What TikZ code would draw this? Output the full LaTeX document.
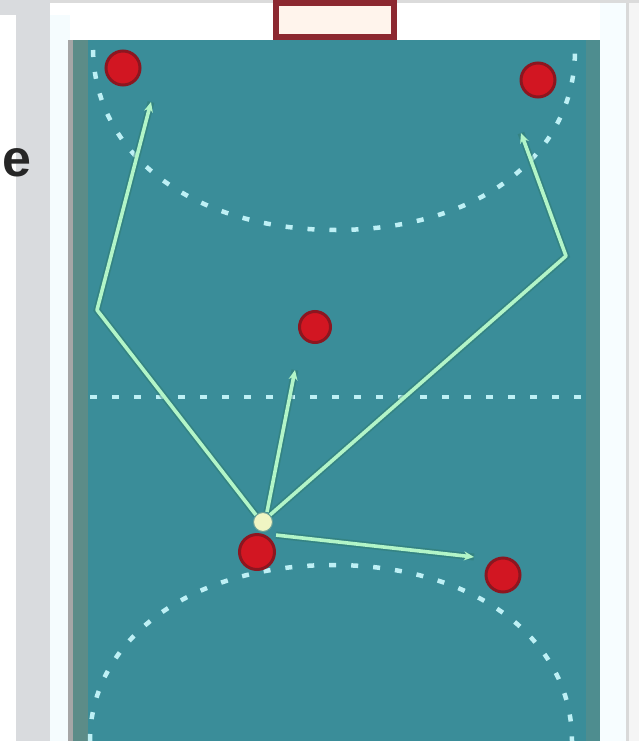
\documentclass[tikz,border=0pt]{standalone}
\usepackage{fontspec}
\setsansfont{Liberation Sans}
\usetikzlibrary{arrows.meta}
\definecolor{court}{RGB}{58,141,153}
\definecolor{courtedge}{RGB}{92,140,136}
\definecolor{stripgrey}{RGB}{217,219,222}
\definecolor{lineblue}{RGB}{190,240,245}
\definecolor{mint}{RGB}{178,245,200}
\definecolor{shadowgreen}{RGB}{45,120,105}
\definecolor{playerred}{RGB}{210,22,34}
\definecolor{playerdark}{RGB}{140,22,32}
\definecolor{goalred}{RGB}{140,40,48}
\definecolor{goalfill}{RGB}{255,244,236}
\definecolor{ballyellow}{RGB}{240,245,195}
\tikzset{
  player/.style={circle, fill=playerred, draw=playerdark, line width=3pt, minimum size=34pt, inner sep=0pt},
  ballnode/.style={circle, fill=ballyellow, draw=shadowgreen!70, line width=1pt, minimum size=19pt, inner sep=0pt},
  courtline/.style={lineblue, line width=4.5pt, dash pattern=on 7pt off 15pt},
  passshadow/.style={shadowgreen, line width=7pt, opacity=0.45},
  pass/.style={mint, line width=3.6pt, line join=round, -{Stealth[length=10pt,width=9pt]}},
  fragtext/.style={font=\sffamily\bfseries\fontsize{52}{52}\selectfont, text=black!85, inner sep=0pt}
}
\begin{document}
\begin{tikzpicture}[x=1pt,y=-1pt]
\useasboundingbox (0,0) rectangle (639,741);
% page background
\fill[white] (0,0) rectangle (639,741);
\fill[black!14] (0,0) rectangle (639,3);
\fill[stripgrey] (0,0) rectangle (50,15);
\fill[stripgrey] (16,15) rectangle (50,741);
\node[fragtext, anchor=base east] (frag) at (32,176) {e};
\fill[cyan!4] (50,15) rectangle (70,741);
\fill[black!35] (68,40) rectangle (74,741);
\fill[cyan!3] (600,3) rectangle (626,741);
\fill[black!15] (626,3) rectangle (629,741);
\fill[black!4] (629,3) rectangle (639,741);
% court
\fill[court] (73,40) rectangle (600,741);
\fill[courtedge] (73,40) rectangle (88,741);
\fill[courtedge!60!court] (586,40) rectangle (600,741);
% goal
\node[draw=goalred, line width=6pt, fill=goalfill, minimum width=118pt, minimum height=34pt, inner sep=0pt] (goal) at (335,20) {};
% court lines
\draw[courtline] (93,50) .. controls (95,160) and (200,230) .. (336,230) .. controls (472,230) and (575,160) .. (575,50);
\draw[courtline] (90,397) -- (582,397);
\draw[courtline] (90,741) .. controls (90,640) and (190,565) .. (333,565) .. controls (476,565) and (572,640) .. (572,741);
% players
\node[player] (p1) at (123,68) {};
\node[player] (p2) at (538,80) {};
\node[player, minimum size=31pt] (p3) at (315,327) {};
\node[player, minimum size=35pt] (p4) at (257,552) {};
\node[player] (p5) at (503,575) {};
\node[ballnode] (ball) at (263,522) {};
% bend points and targets
\coordinate (bl) at (97,310);
\coordinate (tl) at (151,102);
\coordinate (tm) at (295,370);
\coordinate (br) at (566,256);
\coordinate (tr) at (521,133);
\coordinate (tb) at (474,557);
% pass shadows
\draw[passshadow] (ball.north west) -- (bl) -- (tl);
\draw[passshadow] (ball.north) ++(4,0) -- (tm);
\draw[passshadow] (ball.north east) -- (br) -- (tr);
\draw[passshadow] (ball.south east) ++(6,6) -- (tb);
% passes
\draw[pass] (ball.north west) -- (bl) -- (tl);
\draw[pass] (ball.north) ++(4,0) -- (tm);
\draw[pass] (ball.north east) -- (br) -- (tr);
\draw[pass] (ball.south east) ++(6,6) -- (tb);
\end{tikzpicture}
\end{document}
